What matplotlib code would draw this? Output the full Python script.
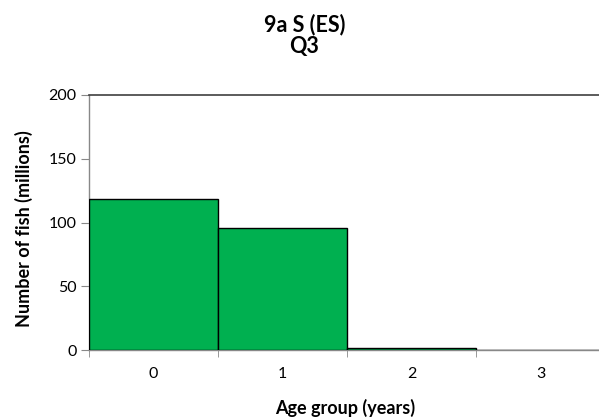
import matplotlib
matplotlib.use("Agg")
import matplotlib.pyplot as plt
import numpy as np

ages = ["0", "1", "2", "3"]
numbers = [118.5, 95.5, 1.5, 0.0]
title = "9a S (ES)\nQ3"

plt.rcParams["font.family"] = ["Lato", "DejaVu Sans"]

fig = plt.figure(figsize=(5.99, 4.18), dpi=100)
ax = fig.add_axes([89 / 599, 1 - 350 / 418, 516 / 599, 255 / 418])

x = np.arange(len(ages))
ax.bar(x, numbers, width=1.0, color="#00B050", edgecolor="black", linewidth=1.0, zorder=3)

ax.set_xlim(-0.5, len(ages) - 0.5)
ax.set_ylim(0, 200)
ax.set_yticks([0, 50, 100, 150, 200])
ax.set_xticks(x)
ax.set_xticklabels(ages)
ax.set_xticks(np.arange(-0.5, len(ages), 1.0), minor=True)
ax.tick_params(axis="x", which="major", length=0, pad=12, labelsize=11.5)
ax.tick_params(axis="x", which="minor", length=5, color="#888888", direction="out")
ax.tick_params(axis="y", length=6, color="#888888", direction="out", labelsize=11.5, pad=3)

for s in ["left", "bottom"]:
    ax.spines[s].set_color("#888888")
    ax.spines[s].set_linewidth(1.0)
ax.spines["top"].set_color("#404040")
ax.spines["top"].set_linewidth(1.2)
ax.spines["right"].set_visible(False)

fig.text(0.508, 0.968, title, ha="center", va="top", fontsize=15.5, fontweight="bold", linespacing=1.05)
fig.text(345 / 599, 1 - 408 / 418, "Age group (years)", ha="center", va="center",
         fontsize=13, fontweight="bold")
fig.text(24 / 599, 1 - 229 / 418, "Number of fish (millions)", ha="center", va="center",
         rotation=90, fontsize=13, fontweight="bold")

fig.savefig("out.png", dpi=100)
